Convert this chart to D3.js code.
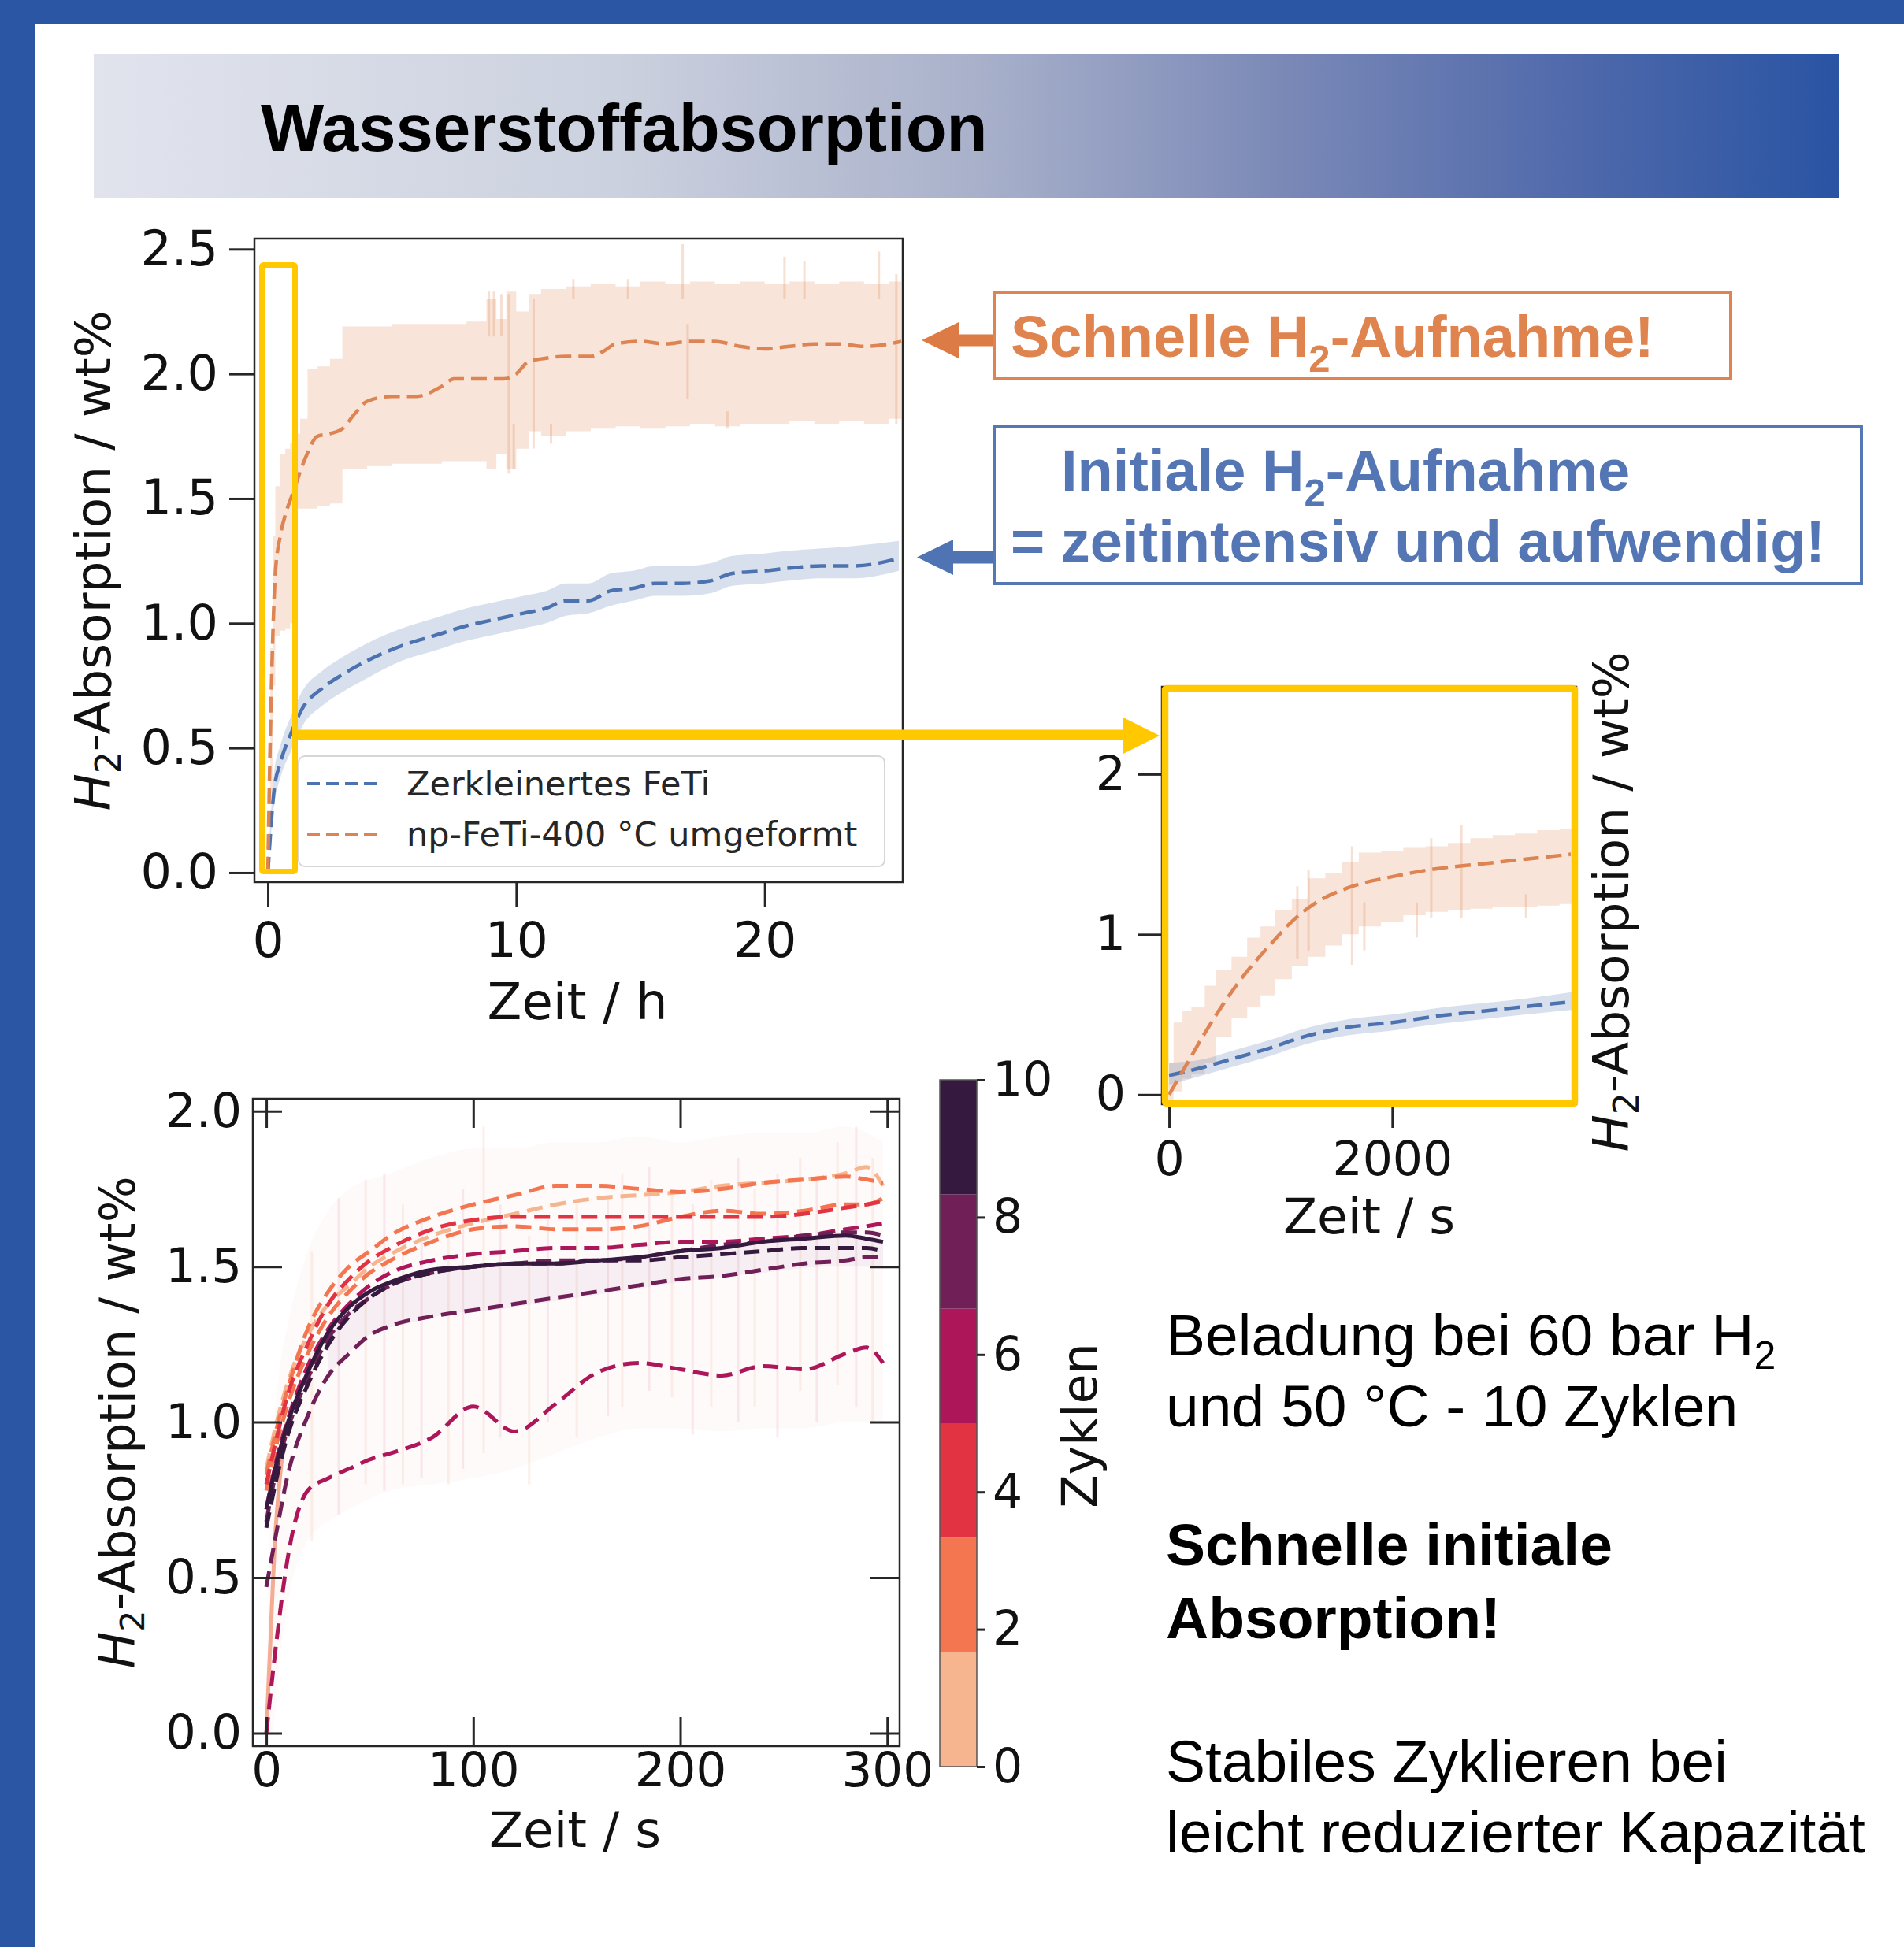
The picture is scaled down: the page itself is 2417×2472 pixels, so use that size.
<!DOCTYPE html>
<html>
<head>
<meta charset="utf-8">
<script src="https://cdn.jsdelivr.net/npm/d3@7"></script>
<style>body{margin:0;background:#fff}</style>
</head>
<body>
<script>
// ---- chart A: long run, time in hours ----
const hoursOrange = [0, 0.1, 0.2, 0.3, 0.5, 0.75, 1.0, 1.5, 2.0, 2.5, 3.0, 3.5, 4.0, 5.0, 6.0, 7.0, 7.5, 8.0, 9.0, 9.5, 10.0, 10.5, 11.0, 12.0, 13.0, 13.5, 14.0, 15.0, 16.0, 17.0, 18.0, 19.0, 20.0, 21.0, 22.0, 23.0, 24.0, 25.0, 25.5];
const meanOrange = [0, 0.55, 0.95, 1.2, 1.35, 1.45, 1.52, 1.66, 1.75, 1.76, 1.78, 1.84, 1.89, 1.91, 1.91, 1.95, 1.98, 1.98, 1.98, 1.98, 2.0, 2.05, 2.06, 2.07, 2.07, 2.09, 2.12, 2.13, 2.12, 2.13, 2.13, 2.11, 2.10, 2.11, 2.12, 2.12, 2.11, 2.12, 2.13];
const hoursBandOrange = [0, 0.1, 0.2, 0.3, 0.5, 0.7, 0.9, 1.1, 1.3, 1.6, 2.0, 2.5, 3, 4, 5, 6, 7, 8, 8.8, 9.2, 9.6, 10.0, 10.5, 11, 12, 13, 14, 15, 16, 17, 18, 19, 20, 21, 22, 23, 24, 25, 25.5];
const orangeHi = [0.05, 0.9, 1.35, 1.55, 1.68, 1.70, 1.72, 1.76, 1.82, 2.02, 2.03, 2.06, 2.19, 2.19, 2.2, 2.2, 2.2, 2.21, 2.3, 2.22, 2.33, 2.25, 2.32, 2.34, 2.35, 2.36, 2.35, 2.37, 2.36, 2.37, 2.36, 2.37, 2.36, 2.37, 2.36, 2.37, 2.36, 2.37, 2.35];
const orangeLo = [0, 0.3, 0.75, 0.95, 0.97, 0.98, 1.0, 1.46, 1.46, 1.46, 1.47, 1.48, 1.62, 1.63, 1.64, 1.64, 1.65, 1.65, 1.62, 1.68, 1.62, 1.70, 1.77, 1.75, 1.77, 1.78, 1.79, 1.78, 1.79, 1.80, 1.79, 1.80, 1.80, 1.81, 1.80, 1.81, 1.80, 1.82, 1.82];
const orangeSpikesH = [[8.9, 2.15, 2.33], [9.1, 2.15, 2.33], [9.4, 2.15, 2.32], [9.7, 1.6, 2.32], [9.9, 1.62, 1.8], [10.7, 1.7, 2.3], [11.4, 1.72, 1.8], [12.3, 2.3, 2.38], [14.5, 2.3, 2.38], [16.7, 2.3, 2.52], [16.9, 1.9, 2.2], [18.5, 1.78, 1.85], [20.8, 2.3, 2.47], [21.6, 2.3, 2.45], [24.6, 2.3, 2.49], [25.3, 1.8, 2.4]];
const hoursBlue = [0, 0.25, 0.5, 0.9, 1.4, 2.2, 3.1, 4.0, 5.4, 6.7, 8.0, 8.9, 10.3, 11.2, 12.0, 12.9, 13.8, 14.7, 15.6, 16.7, 17.8, 18.7, 20.0, 20.9, 22.3, 23.6, 25.4];
const meanBlue = [0, 0.33, 0.44, 0.55, 0.66, 0.74, 0.80, 0.85, 0.91, 0.95, 0.99, 1.01, 1.04, 1.06, 1.09, 1.09, 1.13, 1.14, 1.16, 1.16, 1.17, 1.20, 1.21, 1.22, 1.23, 1.23, 1.26];
const blueLo = [0, 0.27, 0.38, 0.48, 0.59, 0.67, 0.73, 0.78, 0.85, 0.89, 0.93, 0.95, 0.98, 1.00, 1.03, 1.04, 1.07, 1.09, 1.11, 1.11, 1.12, 1.15, 1.16, 1.17, 1.18, 1.18, 1.21];
const blueHi = [0.02, 0.40, 0.51, 0.62, 0.73, 0.81, 0.87, 0.92, 0.98, 1.02, 1.06, 1.08, 1.11, 1.13, 1.16, 1.16, 1.20, 1.21, 1.23, 1.23, 1.24, 1.27, 1.28, 1.29, 1.30, 1.31, 1.33];
const legendNames = ["Zerkleinertes FeTi", "np-FeTi-400 °C umgeformt"];

// ---- chart B: first hour, time in seconds ----
const secOrange = [0, 150, 300, 500, 700, 900, 1100, 1300, 1600, 2000, 2400, 2800, 3200, 3600];
const meanOrangeS = [0.0, 0.18, 0.36, 0.58, 0.77, 0.93, 1.08, 1.19, 1.29, 1.36, 1.41, 1.44, 1.47, 1.50];
const secBandOrange = [0, 40, 120, 200, 320, 420, 560, 700, 820, 950, 1100, 1250, 1400, 1550, 1700, 1900, 2100, 2300, 2500, 2700, 2900, 3100, 3300, 3500, 3620];
const orangeHiS = [0.2, 0.45, 0.52, 0.55, 0.68, 0.78, 0.86, 0.98, 1.05, 1.15, 1.22, 1.35, 1.38, 1.45, 1.51, 1.52, 1.54, 1.55, 1.57, 1.60, 1.62, 1.63, 1.65, 1.66, 1.68];
const orangeLoS = [-0.04, 0.02, 0.1, 0.13, 0.2, 0.36, 0.48, 0.55, 0.62, 0.72, 0.8, 0.86, 0.93, 1.0, 1.05, 1.08, 1.12, 1.14, 1.15, 1.16, 1.17, 1.17, 1.18, 1.19, 1.2];
const orangeSpikesS = [[1150, 0.85, 1.3], [1250, 0.9, 1.4], [1640, 0.81, 1.55], [1750, 0.9, 1.2], [2220, 0.98, 1.2], [2350, 1.1, 1.6], [2620, 1.1, 1.68], [3200, 1.1, 1.25]];
const secBlue = [0, 300, 500, 900, 1200, 1600, 2000, 2400, 2800, 3200, 3620];
const meanBlueS = [0.12, 0.17, 0.21, 0.29, 0.36, 0.42, 0.45, 0.49, 0.52, 0.55, 0.58];
const blueLoS = [0.06, 0.12, 0.16, 0.24, 0.31, 0.37, 0.40, 0.44, 0.47, 0.50, 0.53];
const blueHiS = [0.20, 0.22, 0.26, 0.34, 0.41, 0.47, 0.50, 0.54, 0.57, 0.60, 0.64];

// ---- chart C: 10 cycles, time in seconds ----
const secCycle = [0, 5, 10, 20, 30, 40, 50, 60, 80, 100, 120, 140, 160, 180, 200, 220, 240, 260, 280, 290, 298];
const cycle1 = [0.85, 1.0, 1.12, 1.28, 1.38, 1.44, 1.50, 1.54, 1.60, 1.64, 1.67, 1.70, 1.72, 1.73, 1.74, 1.76, 1.77, 1.78, 1.80, 1.82, 1.76];
const cycle2 = [0.83, 0.98, 1.10, 1.30, 1.42, 1.50, 1.55, 1.60, 1.66, 1.70, 1.73, 1.76, 1.76, 1.75, 1.74, 1.75, 1.77, 1.78, 1.79, 1.78, 1.77];
const cycle3 = [0.78, 0.93, 1.05, 1.22, 1.34, 1.42, 1.48, 1.52, 1.58, 1.62, 1.63, 1.62, 1.62, 1.63, 1.66, 1.68, 1.67, 1.68, 1.70, 1.70, 1.72];
const cycle4 = [0.80, 0.95, 1.08, 1.25, 1.38, 1.46, 1.52, 1.56, 1.62, 1.65, 1.66, 1.66, 1.66, 1.66, 1.66, 1.66, 1.66, 1.67, 1.69, 1.70, 1.71];
const cycle5 = [0.72, 0.88, 1.00, 1.18, 1.30, 1.38, 1.44, 1.48, 1.52, 1.54, 1.55, 1.56, 1.56, 1.57, 1.58, 1.58, 1.59, 1.60, 1.62, 1.63, 1.64];
const cycle6 = [0.0, 0.3, 0.55, 0.78, 0.82, 0.85, 0.88, 0.90, 0.95, 1.05, 0.97, 1.06, 1.16, 1.19, 1.17, 1.15, 1.18, 1.17, 1.22, 1.24, 1.19];
const cycle7 = [0.68, 0.85, 0.97, 1.14, 1.27, 1.35, 1.40, 1.44, 1.48, 1.50, 1.51, 1.52, 1.52, 1.53, 1.55, 1.57, 1.58, 1.60, 1.61, 1.61, 1.60];
const cycle8 = [0.47, 0.65, 0.82, 1.02, 1.15, 1.22, 1.28, 1.31, 1.34, 1.36, 1.38, 1.40, 1.42, 1.44, 1.46, 1.47, 1.49, 1.51, 1.52, 1.53, 1.53];
const cycle9 = [0.66, 0.82, 0.95, 1.12, 1.25, 1.34, 1.40, 1.44, 1.48, 1.50, 1.51, 1.51, 1.52, 1.52, 1.53, 1.54, 1.55, 1.56, 1.56, 1.56, 1.55];
const cycle10 = [0.72, 0.87, 0.99, 1.16, 1.29, 1.37, 1.42, 1.45, 1.49, 1.50, 1.51, 1.51, 1.52, 1.53, 1.55, 1.56, 1.58, 1.59, 1.60, 1.59, 1.58];
const cycles = [cycle1, cycle2, cycle3, cycle4, cycle5, cycle6, cycle7, cycle8, cycle9, cycle10];
const secRaw = [0, 3, 6, 10, 20, 30, 40, 60, 80, 100, 120, 140, 160, 180, 200, 220, 240, 260, 280, 298];
const rawHi = [0.2, 0.9, 1.15, 1.3, 1.55, 1.68, 1.75, 1.8, 1.85, 1.88, 1.88, 1.9, 1.9, 1.92, 1.9, 1.92, 1.93, 1.93, 1.95, 1.9];
const rawLo = [0.0, 0.0, 0.2, 0.4, 0.62, 0.68, 0.72, 0.78, 0.8, 0.82, 0.85, 0.9, 0.95, 0.98, 0.98, 0.97, 0.98, 0.98, 1.0, 1.0];
const secPurple = [30, 50, 70, 90, 110, 130, 150, 170, 190, 210, 240, 270, 298];
const purpleLo = [1.15, 1.28, 1.32, 1.35, 1.36, 1.38, 1.4, 1.42, 1.44, 1.46, 1.48, 1.5, 1.5];
const purpleHi = [1.3, 1.42, 1.47, 1.49, 1.5, 1.51, 1.51, 1.52, 1.53, 1.55, 1.58, 1.6, 1.58];
const rawSpikes = [[22, 0.62, 1.55], [35, 0.7, 1.72], [48, 0.8, 1.78], [57, 0.78, 1.8], [66, 0.8, 1.7], [75, 0.82, 1.65], [88, 0.8, 1.6], [95, 0.85, 1.75], [105, 0.9, 1.95], [113, 0.95, 1.7], [127, 0.8, 1.6], [136, 1.0, 1.65], [150, 0.95, 1.7], [165, 1.02, 1.72], [172, 1.05, 1.8], [185, 1.1, 1.82], [196, 1.08, 1.75], [206, 0.96, 1.7], [215, 1.05, 1.78], [228, 1.0, 1.85], [236, 1.05, 1.75], [247, 0.95, 1.8], [258, 1.1, 1.85], [266, 1.0, 1.78], [276, 1.12, 1.9], [285, 1.05, 1.95], [293, 1.0, 1.85]];
const cbColors = ["#f6b48f", "#f37651", "#e13342", "#ad1759", "#701f57", "#35193e"];
const cbTicks = [0, 2, 4, 6, 8, 10];

document.addEventListener("DOMContentLoaded", function () {
    const blue = "#4c72b0", orange = "#dd8452", yellow = "#ffc800";
    const mplFont = "'DejaVu Sans'", slideFont = "'Liberation Sans', Arial";

    const svg = d3.select("body").append("svg")
        .attr("width", 2417).attr("height", 2472).style("display", "block");
    const defs = svg.append("defs");

    svg.append("rect").attr("width", 2417).attr("height", 2472).attr("fill", "#fff");
    svg.append("rect").attr("x", 0).attr("y", 0).attr("width", 2417).attr("height", 31).attr("fill", "#2a56a3");
    svg.append("rect").attr("x", 0).attr("y", 0).attr("width", 44).attr("height", 2472).attr("fill", "#2a56a3");

    // title banner
    const grad = defs.append("linearGradient").attr("id", "banner");
    [[0, "#e1e4ed"], [0.3, "#ccd1df"], [0.5, "#aab2cb"], [0.68, "#7b89b7"], [0.85, "#4f69ab"], [1, "#2954a3"]]
        .forEach(s => grad.append("stop").attr("offset", s[0]).attr("stop-color", s[1]));
    svg.append("rect").attr("x", 119).attr("y", 68).attr("width", 2216).attr("height", 183).attr("fill", "url(#banner)");
    svg.append("text").attr("x", 331).attr("y", 192).text("Wasserstoffabsorption")
        .style("font-family", slideFont).style("font-weight", "bold").style("font-size", "85px").attr("fill", "#000");

    function styleAxis(g, size) {
        g.select(".domain").remove();
        g.selectAll(".tick line").attr("stroke", "#262626").attr("stroke-width", 3);
        g.selectAll(".tick text").attr("fill", "#111").style("font-family", mplFont).style("font-size", size + "px");
    }

    function yLabel(x, y, size, parent) {
        const t = parent.append("text").attr("transform", `translate(${x},${y}) rotate(-90)`)
            .attr("text-anchor", "middle").style("font-family", mplFont).style("font-size", size + "px").attr("fill", "#111");
        t.append("tspan").style("font-style", "italic").text("H");
        t.append("tspan").attr("dy", size * 0.2).style("font-size", (size * 0.7) + "px").text("2");
        t.append("tspan").attr("dy", -size * 0.2).text("-Absorption / wt%");
    }

    function clip(id, x, y, w, h) {
        defs.append("clipPath").attr("id", id).append("rect").attr("x", x).attr("y", y).attr("width", w).attr("height", h);
    }

    // ================= chart A =================
    const xA = d3.scaleLinear().domain([-0.54, 25.56]).range([323, 1146]);
    const yA = d3.scaleLinear().domain([-0.038, 2.542]).range([1120, 303]);
    clip("clipA", 323, 303, 823, 817);
    const gA = svg.append("g");
    const pA = gA.append("g").attr("clip-path", "url(#clipA)");

    const bandOA = hoursBandOrange.map((t, i) => ({ t, lo: orangeLo[i], hi: orangeHi[i] }));
    pA.append("path").datum(bandOA)
        .attr("d", d3.area().x(d => xA(d.t)).y0(d => yA(d.lo)).y1(d => yA(d.hi)).curve(d3.curveStepAfter))
        .attr("fill", orange).attr("fill-opacity", 0.22);
    pA.selectAll(".spikeA").data(orangeSpikesH).enter().append("line")
        .attr("x1", d => xA(d[0])).attr("x2", d => xA(d[0]))
        .attr("y1", d => yA(d[1])).attr("y2", d => yA(d[2]))
        .attr("stroke", orange).attr("stroke-opacity", 0.25).attr("stroke-width", 3);

    const bandBA = hoursBlue.map((t, i) => ({ t, lo: blueLo[i], hi: blueHi[i] }));
    pA.append("path").datum(bandBA)
        .attr("d", d3.area().x(d => xA(d.t)).y0(d => yA(d.lo)).y1(d => yA(d.hi)).curve(d3.curveMonotoneX))
        .attr("fill", blue).attr("fill-opacity", 0.22);

    const lineA = d3.line().x(d => xA(d[0])).y(d => yA(d[1])).curve(d3.curveMonotoneX);
    pA.append("path").datum(hoursBlue.map((t, i) => [t, meanBlue[i]]))
        .attr("d", lineA).attr("fill", "none").attr("stroke", blue).attr("stroke-width", 4.5).attr("stroke-dasharray", "20 9");
    pA.append("path").datum(hoursOrange.map((t, i) => [t, meanOrange[i]]))
        .attr("d", lineA).attr("fill", "none").attr("stroke", orange).attr("stroke-width", 4.5).attr("stroke-dasharray", "20 9");

    gA.append("rect").attr("x", 323).attr("y", 303).attr("width", 823).attr("height", 817)
        .attr("fill", "none").attr("stroke", "#262626").attr("stroke-width", 2.5);
    gA.append("g").attr("transform", "translate(323,0)")
        .call(d3.axisLeft(yA).tickValues([0, 0.5, 1, 1.5, 2, 2.5]).tickFormat(d3.format(".1f")).tickSize(32).tickPadding(14))
        .call(g => styleAxis(g, 62));
    gA.append("g").attr("transform", "translate(0,1120)")
        .call(d3.axisBottom(xA).tickValues([0, 10, 20]).tickSize(32).tickPadding(18))
        .call(g => styleAxis(g, 63));
    gA.append("text").attr("x", 733).attr("y", 1294).attr("text-anchor", "middle").text("Zeit / h")
        .style("font-family", mplFont).style("font-size", "64px").attr("fill", "#111");
    yLabel(140, 712, 63, gA);

    // legend
    const leg = gA.append("g");
    leg.append("rect").attr("x", 379).attr("y", 960).attr("width", 744).attr("height", 140).attr("rx", 8)
        .attr("fill", "#fff").attr("fill-opacity", 0.8).attr("stroke", "#d6d6d6").attr("stroke-width", 2);
    [blue, orange].forEach((c, i) => {
        const y = 995 + i * 64;
        leg.append("line").attr("x1", 390).attr("x2", 481).attr("y1", y).attr("y2", y)
            .attr("stroke", c).attr("stroke-width", 4).attr("stroke-dasharray", "16 8");
        leg.append("text").attr("x", 516).attr("y", y + 15).text(legendNames[i])
            .style("font-family", mplFont).style("font-size", "43px").attr("fill", "#262626");
    });

    // ================= chart B (inset) =================
    const xB = d3.scaleLinear().domain([-64, 3650]).range([1475, 2001]);
    const yB = d3.scaleLinear().domain([-0.06, 2.545]).range([1402, 872]);
    clip("clipB", 1475, 872, 526, 530);
    const gB = svg.append("g");
    const pB = gB.append("g").attr("clip-path", "url(#clipB)");
    const bandOB = secBandOrange.map((t, i) => ({ t, lo: orangeLoS[i], hi: orangeHiS[i] }));
    pB.append("path").datum(bandOB)
        .attr("d", d3.area().x(d => xB(d.t)).y0(d => yB(d.lo)).y1(d => yB(d.hi)).curve(d3.curveStepAfter))
        .attr("fill", orange).attr("fill-opacity", 0.22);
    pB.selectAll(".spikeB").data(orangeSpikesS).enter().append("line")
        .attr("x1", d => xB(d[0])).attr("x2", d => xB(d[0]))
        .attr("y1", d => yB(d[1])).attr("y2", d => yB(d[2]))
        .attr("stroke", orange).attr("stroke-opacity", 0.25).attr("stroke-width", 3);
    const bandBB = secBlue.map((t, i) => ({ t, lo: blueLoS[i], hi: blueHiS[i] }));
    pB.append("path").datum(bandBB)
        .attr("d", d3.area().x(d => xB(d.t)).y0(d => yB(d.lo)).y1(d => yB(d.hi)).curve(d3.curveMonotoneX))
        .attr("fill", blue).attr("fill-opacity", 0.22);
    const lineB = d3.line().x(d => xB(d[0])).y(d => yB(d[1])).curve(d3.curveMonotoneX);
    pB.append("path").datum(secBlue.map((t, i) => [t, meanBlueS[i]]))
        .attr("d", lineB).attr("fill", "none").attr("stroke", blue).attr("stroke-width", 4.5).attr("stroke-dasharray", "20 9");
    pB.append("path").datum(secOrange.map((t, i) => [t, meanOrangeS[i]]))
        .attr("d", lineB).attr("fill", "none").attr("stroke", orange).attr("stroke-width", 4.5).attr("stroke-dasharray", "20 9");
    gB.append("rect").attr("x", 1475).attr("y", 872).attr("width", 526).attr("height", 530)
        .attr("fill", "none").attr("stroke", "#262626").attr("stroke-width", 2.5);
    gB.append("g").attr("transform", "translate(1475,0)")
        .call(d3.axisLeft(yB).tickValues([0, 1, 2]).tickFormat(d3.format("d")).tickSize(30).tickPadding(16))
        .call(g => styleAxis(g, 60));
    gB.append("g").attr("transform", "translate(0,1402)")
        .call(d3.axisBottom(xB).tickValues([0, 2000]).tickFormat(d3.format("d")).tickSize(30).tickPadding(17))
        .call(g => styleAxis(g, 60));
    gB.append("text").attr("x", 1738).attr("y", 1566).attr("text-anchor", "middle").text("Zeit / s")
        .style("font-family", mplFont).style("font-size", "63px").attr("fill", "#111");
    yLabel(2067, 1145, 63, gB);
    gB.append("rect").attr("x", 1479).attr("y", 874).attr("width", 520).attr("height", 527).attr("rx", 2)
        .attr("fill", "none").attr("stroke", yellow).attr("stroke-width", 8.5);

    // ================= chart C =================
    const xC = d3.scaleLinear().domain([-6.5, 306]).range([321, 1142]);
    const yC = d3.scaleLinear().domain([-0.042, 2.04]).range([2217, 1395]);
    clip("clipC", 321, 1395, 821, 822);
    const gC = svg.append("g");
    const pC = gC.append("g").attr("clip-path", "url(#clipC)");
    const colorC = d3.scaleQuantize().domain([0, 10]).range(cbColors);

    pC.append("path").datum(secRaw.map((t, i) => ({ t, lo: rawLo[i], hi: rawHi[i] })))
        .attr("d", d3.area().x(d => xC(d.t)).y0(d => yC(d.lo)).y1(d => yC(d.hi)).curve(d3.curveMonotoneX))
        .attr("fill", "#f1b9b9").attr("fill-opacity", 0.08);
    pC.selectAll(".spikeC").data(rawSpikes).enter().append("line")
        .attr("x1", d => xC(d[0])).attr("x2", d => xC(d[0]))
        .attr("y1", d => yC(d[1])).attr("y2", d => yC(d[2]))
        .attr("stroke", (d, i) => i % 2 ? "#e8a0b0" : "#f3b9a0").attr("stroke-opacity", 0.22).attr("stroke-width", 3);
    pC.append("path").datum(secPurple.map((t, i) => ({ t, lo: purpleLo[i], hi: purpleHi[i] })))
        .attr("d", d3.area().x(d => xC(d.t)).y0(d => yC(d.lo)).y1(d => yC(d.hi)).curve(d3.curveMonotoneX))
        .attr("fill", "#8a5a8a").attr("fill-opacity", 0.07);
    pC.append("path").datum([[0, 0], [2, 0.3], [4, 0.6], [7, 0.85], [10, 1.0]])
        .attr("d", d3.line().x(d => xC(d[0])).y(d => yC(d[1])).curve(d3.curveMonotoneX))
        .attr("fill", "none").attr("stroke", "#f08a6a").attr("stroke-opacity", 0.7).attr("stroke-width", 5);

    const lineC = d3.line().x(d => xC(d[0])).y(d => yC(d[1])).curve(d3.curveMonotoneX);
    cycles.forEach((vals, k) => {
        const c = k + 1;
        pC.append("path").datum(secCycle.map((t, i) => [t, vals[i]]))
            .attr("d", lineC).attr("fill", "none").attr("stroke", colorC(c)).attr("stroke-width", 5)
            .attr("stroke-dasharray", c === 10 ? null : "20 10");
    });

    gC.append("rect").attr("x", 321).attr("y", 1395).attr("width", 821).attr("height", 822)
        .attr("fill", "none").attr("stroke", "#262626").attr("stroke-width", 2.5);
    const yTicksC = [0, 0.5, 1, 1.5, 2], xTicksC = [0, 100, 200, 300];
    gC.append("g").attr("transform", "translate(321,0)")
        .call(d3.axisLeft(yC).tickValues(yTicksC).tickFormat(d3.format(".1f")).tickSize(-37).tickPadding(14))
        .call(g => styleAxis(g, 61));
    gC.append("g").attr("transform", "translate(1142,0)")
        .call(d3.axisRight(yC).tickValues(yTicksC).tickFormat("").tickSize(-37))
        .call(g => styleAxis(g, 61));
    gC.append("g").attr("transform", "translate(0,2217)")
        .call(d3.axisBottom(xC).tickValues(xTicksC).tickSize(-37).tickPadding(8))
        .call(g => styleAxis(g, 61));
    gC.append("g").attr("transform", "translate(0,1395)")
        .call(d3.axisTop(xC).tickValues(xTicksC).tickFormat("").tickSize(-37))
        .call(g => styleAxis(g, 61));
    gC.append("text").attr("x", 730).attr("y", 2345).attr("text-anchor", "middle").text("Zeit / s")
        .style("font-family", mplFont).style("font-size", "63px").attr("fill", "#111");
    yLabel(171, 1806, 62, gC);

    // colorbar
    const yCb = d3.scaleLinear().domain([0, 10]).range([2243, 1371]);
    const segs = cbColors.map((c, i) => ({ c, a: i * 10 / 6, b: (i + 1) * 10 / 6 }));
    gC.selectAll(".cbseg").data(segs).enter().append("rect")
        .attr("x", 1193).attr("width", 47)
        .attr("y", d => yCb(d.b)).attr("height", d => yCb(d.a) - yCb(d.b))
        .attr("fill", d => d.c);
    gC.append("rect").attr("x", 1193).attr("y", 1371).attr("width", 47).attr("height", 872)
        .attr("fill", "none").attr("stroke", "#555").attr("stroke-width", 1.5);
    gC.append("g").attr("transform", "translate(1240,0)")
        .call(d3.axisRight(yCb).tickValues(cbTicks).tickSize(10).tickPadding(10))
        .call(g => styleAxis(g, 60));
    gC.append("text").attr("transform", "translate(1392,1810) rotate(-90)").attr("text-anchor", "middle")
        .text("Zyklen").style("font-family", mplFont).style("font-size", "62px").attr("fill", "#111");

    // ================= highlight box and arrow =================
    svg.append("rect").attr("x", 332.5).attr("y", 336.5).attr("width", 42).attr("height", 770).attr("rx", 2)
        .attr("fill", "none").attr("stroke", yellow).attr("stroke-width", 7);
    svg.append("line").attr("x1", 378).attr("x2", 1428).attr("y1", 933).attr("y2", 933)
        .attr("stroke", yellow).attr("stroke-width", 13);
    svg.append("polygon").attr("points", "1426,911 1472,934 1426,957").attr("fill", yellow);

    // ================= callouts =================
    const orangeTxt = "#e0844f", blueTxt = "#5476b5";
    svg.append("polygon").attr("points", "1260,424.5 1218,424.5 1218,408.5 1170,432 1218,455.5 1218,439.5 1260,439.5")
        .attr("fill", "#dd7b47");
    svg.append("rect").attr("x", 1262).attr("y", 371).attr("width", 935).attr("height", 110)
        .attr("fill", "#fff").attr("stroke", orangeTxt).attr("stroke-width", 4);
    function h2Text(x, y, parts, color) {
        const t = svg.append("text").attr("x", x).attr("y", y).attr("fill", color)
            .style("font-family", slideFont).style("font-weight", "bold").style("font-size", "74px");
        t.append("tspan").text(parts[0]);
        t.append("tspan").attr("dy", 19).style("font-size", "49px").text("2");
        t.append("tspan").attr("dy", -19).text(parts[1]);
    }
    h2Text(1283, 453, ["Schnelle H", "-Aufnahme!"], orangeTxt);

    svg.append("polygon").attr("points", "1260,700 1210,700 1210,685 1164,707.5 1210,730 1210,715.5 1260,715.5")
        .attr("fill", "#4f73b3");
    svg.append("rect").attr("x", 1262).attr("y", 542).attr("width", 1101).attr("height", 199)
        .attr("fill", "#fff").attr("stroke", "#5578b5").attr("stroke-width", 4);
    h2Text(1347, 623, ["Initiale H", "-Aufnahme"], blueTxt);
    svg.append("text").attr("x", 1283).attr("y", 713).attr("fill", blueTxt).text("= zeitintensiv und aufwendig!")
        .style("font-family", slideFont).style("font-weight", "bold").style("font-size", "74px");

    // ================= right text =================
    const rt = (y, s, bold) => svg.append("text").attr("x", 1480).attr("y", y).text(s).attr("fill", "#000")
        .style("font-family", slideFont).style("font-size", "75px").style("font-weight", bold ? "bold" : "normal");
    const l1 = svg.append("text").attr("x", 1480).attr("y", 1721).attr("fill", "#000")
        .style("font-family", slideFont).style("font-size", "75px");
    l1.append("tspan").text("Beladung bei 60 bar H");
    l1.append("tspan").attr("dy", 17).style("font-size", "50px").text("2");
    rt(1811, "und 50 °C - 10 Zyklen", false);
    rt(1987, "Schnelle initiale", true);
    rt(2080, "Absorption!", true);
    rt(2262, "Stabiles Zyklieren bei", false);
    rt(2352, "leicht reduzierter Kapazität", false);
});
</script>
</body>
</html>
